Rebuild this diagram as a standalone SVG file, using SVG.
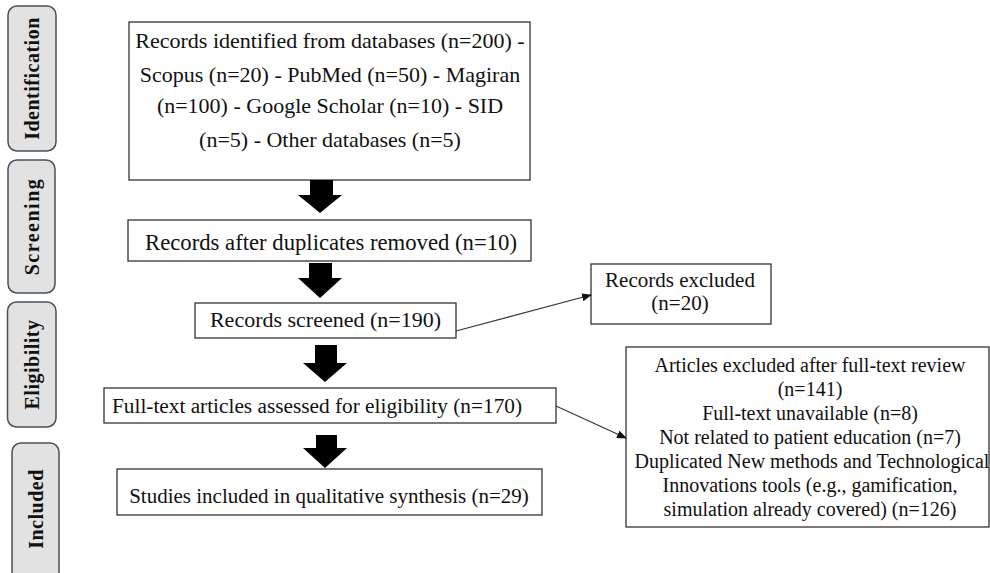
<svg xmlns="http://www.w3.org/2000/svg" width="990" height="573" viewBox="0 0 990 573">
<defs>
<style>
.phase{fill:#e2e2e2;stroke:#46505c;stroke-width:1.5}
.phase-t{font-family:"Liberation Serif","Times New Roman",serif;font-weight:bold;font-size:20px;fill:#111;text-anchor:middle;letter-spacing:0.5px}
.box{fill:#fff;stroke:#333;stroke-width:1.3}
.t{font-family:"Liberation Serif","Times New Roman",serif;font-size:22px;fill:#111;text-anchor:middle}
.ts{font-family:"Liberation Serif","Times New Roman",serif;font-size:20px;fill:#111;text-anchor:middle}
.blk{fill:#000}
.conn{stroke:#333;stroke-width:1.2;fill:none;marker-end:url(#ah)}
</style>
<marker id="ah" markerWidth="10" markerHeight="8" refX="9" refY="4" orient="auto" markerUnits="userSpaceOnUse">
<path d="M0,0 L10,4 L0,8 Z" fill="#111"/>
</marker>
</defs>
<rect width="990" height="573" fill="#fff"/>

<g id="phase-identification">
<rect class="phase" x="8" y="6" width="48" height="145" rx="9"/>
<text class="phase-t" transform="translate(39,78.5) rotate(-90)">Identification</text>
</g>
<g id="phase-screening">
<rect class="phase" x="8" y="160" width="47" height="133" rx="9"/>
<text class="phase-t" style="letter-spacing:1.5px" transform="translate(38.5,226.5) rotate(-90)">Screening</text>
</g>
<g id="phase-eligibility">
<rect class="phase" x="7.5" y="302" width="48.5" height="125" rx="9"/>
<text class="phase-t" transform="translate(39,364.5) rotate(-90)">Eligibility</text>
</g>
<g id="phase-included">
<rect class="phase" x="12" y="443" width="47" height="145" rx="9"/>
<text class="phase-t" transform="translate(42.5,509) rotate(-90)">Included</text>
</g>

<g id="identified">
<rect class="box" x="129" y="22" width="401" height="158"/>
<text class="t" x="330" y="48">Records identified from databases (n=200) -</text>
<text class="t" x="330" y="82">Scopus (n=20) - PubMed (n=50) - Magiran</text>
<text class="t" x="330" y="113">(n=100) - Google Scholar (n=10) - SID</text>
<text class="t" x="330" y="147">(n=5) - Other databases (n=5)</text>
</g>
<g id="duplicates">
<rect class="box" x="128" y="220" width="403" height="41"/>
<text class="t" style="font-size:22.7px" x="331" y="250">Records after duplicates removed (n=10)</text>
</g>
<g id="screened">
<rect class="box" x="195" y="303" width="261" height="35"/>
<text class="t" x="325.5" y="327">Records screened (n=190)</text>
</g>
<g id="records-excluded">
<rect class="box" x="591" y="264" width="180" height="60"/>
<text class="ts" style="font-size:21px" x="680" y="287">Records excluded</text>
<text class="ts" style="font-size:21px" x="680" y="310">(n=20)</text>
</g>
<g id="fulltext">
<rect class="box" x="104" y="388" width="452" height="35"/>
<text class="t" style="font-size:21.3px" x="317" y="413">Full-text articles assessed for eligibility (n=170)</text>
</g>
<g id="articles-excluded">
<rect class="box" x="626" y="347" width="363" height="180"/>
<text class="ts" x="810" y="372">Articles excluded after full-text review</text>
<text class="ts" x="810" y="396">(n=141)</text>
<text class="ts" x="810" y="420">Full-text unavailable (n=8)</text>
<text class="ts" x="810" y="444">Not related to patient education (n=7)</text>
<text class="ts" x="812" y="468">Duplicated New methods and Technological</text>
<text class="ts" x="810" y="492">Innovations tools (e.g., gamification,</text>
<text class="ts" x="810" y="516">simulation already covered) (n=126)</text>
</g>
<g id="included">
<rect class="box" x="117" y="469" width="425" height="46"/>
<text class="t" style="font-size:21px" x="329" y="503">Studies included in qualitative synthesis (n=29)</text>
</g>

<g id="connectors">
<polygon class="blk" points="310,180 333,180 333,195 342,195 320,213 298,195 310,195"/>
<polygon class="blk" points="309,263 332,263 332,278 342,278 320,298 298,278 309,278"/>
<polygon class="blk" points="315,345 337,345 337,363 347,363 325,382 303,363 315,363"/>
<polygon class="blk" points="316,435 337,435 337,448 347,448 325,468 303,448 316,448"/>
<line class="conn" x1="456" y1="331" x2="591" y2="295"/>
<line class="conn" x1="556" y1="406" x2="626" y2="438"/>
</g>
</svg>
